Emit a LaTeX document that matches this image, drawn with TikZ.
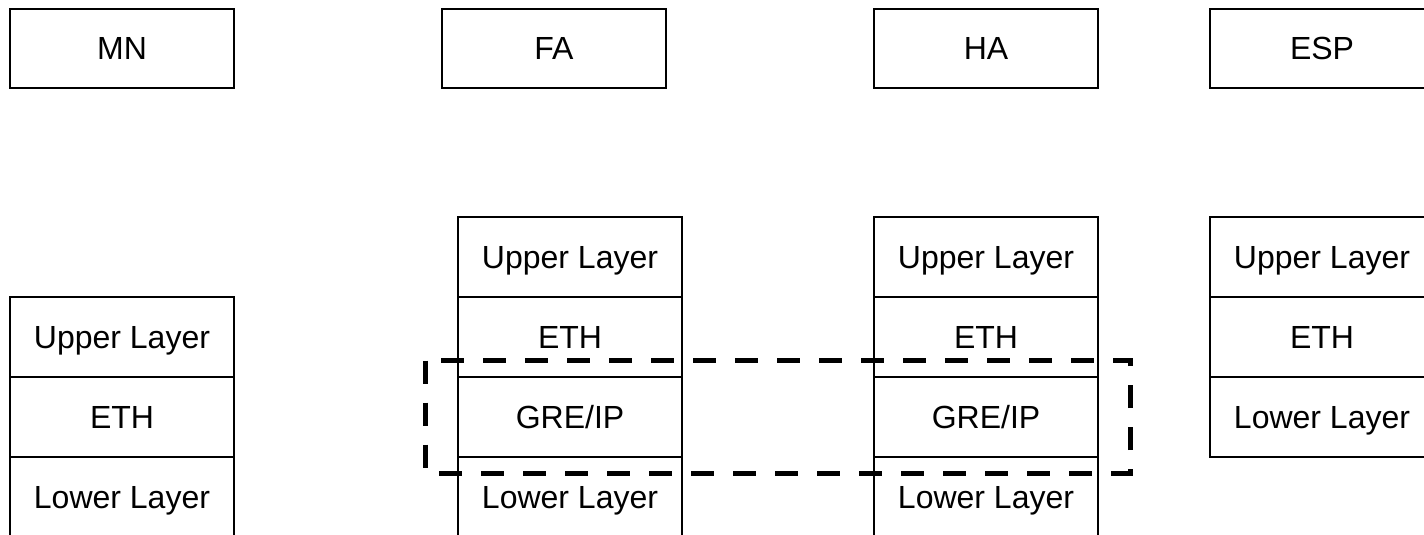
\documentclass[tikz,border=0pt]{standalone}
\usepackage{fontspec}
\setmainfont{Liberation Sans}
\begin{document}
\begin{tikzpicture}[x=1pt,y=-1pt,
  boxtext/.style={font=\fontsize{32}{38}\selectfont, text height=22.9pt, text depth=0pt},
  entity/.style={draw, line width=2.2pt, minimum width=224pt, minimum height=79pt,
    inner sep=0pt, outer sep=0pt, boxtext},
  layer/.style={draw, line width=2.2pt, minimum width=224pt, minimum height=80pt,
    inner sep=0pt, outer sep=0pt, boxtext},
  tunnel/.style={line width=5pt, dash pattern=on 23pt off 19pt, line join=miter}]
\useasboundingbox (0,0) rectangle (1424,535);
\clip (0,0) rectangle (1424,535);

% network entities
\node[entity] (mn)  at (122,48.5)  {MN};
\node[entity] (fa)  at (554,48.5)  {FA};
\node[entity] (ha)  at (986,48.5)  {HA};
\node[entity] (esp) at (1322,48.5) {ESP};

% MN protocol stack
\node[layer] (mnUp)  at (122,337) {Upper Layer};
\node[layer] (mnEth) at (122,417) {ETH};
\node[layer] (mnLow) at (122,497) {Lower Layer};

% FA protocol stack
\node[layer] (faUp)  at (570,257) {Upper Layer};
\node[layer] (faEth) at (570,337) {ETH};
\node[layer] (faGre) at (570,417) {GRE/IP};
\node[layer] (faLow) at (570,497) {Lower Layer};

% HA protocol stack
\node[layer] (haUp)  at (986,257) {Upper Layer};
\node[layer] (haEth) at (986,337) {ETH};
\node[layer] (haGre) at (986,417) {GRE/IP};
\node[layer] (haLow) at (986,497) {Lower Layer};

% ESP protocol stack
\node[layer] (espUp)  at (1322,257) {Upper Layer};
\node[layer] (espEth) at (1322,337) {ETH};
\node[layer] (espLow) at (1322,417) {Lower Layer};

% GRE tunnel between FA and HA
\coordinate (tunTL) at (425.5,360.5);
\coordinate (tunBR) at (1130,473);
\draw[tunnel] (tunTL) -- (tunTL |- tunBR) -- (tunBR) -- (tunBR |- tunTL) -- cycle;
\end{tikzpicture}
\end{document}
